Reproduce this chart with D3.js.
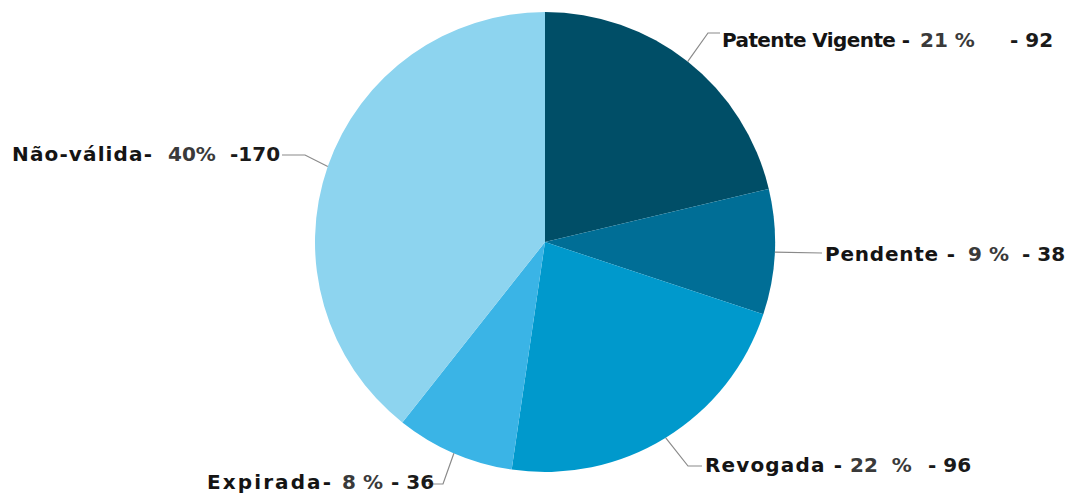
<!DOCTYPE html>
<html>
<head>
<meta charset="utf-8">
<script src="https://cdn.jsdelivr.net/npm/d3@7"></script>
<style>
  html, body { margin: 0; padding: 0; background: #fff; }
  svg text { font-family: "DejaVu Sans", sans-serif; font-weight: bold; font-size: 20px; white-space: pre; }
</style>
</head>
<body>
<svg id="chart" width="1069" height="494"></svg>
<script>
// ---- data ----
const categories = ["Patente Vigente", "Pendente", "Revogada", "Expirada", "Não-válida"];
const counts = [92, 38, 96, 36, 170];
const percentLabels = ["21 %", "9 %", "22  %", "8 %", "40%"];
const nameLabels = ["Patente Vigente -", "Pendente -", "Revogada -", "Expirada-", "Não-válida-"];
const countLabels = ["- 92", "- 38", "- 96", "- 36", "-170"];
const colors = ["#004e67", "#006e96", "#0099cc", "#3ab4e6", "#8dd4ef"];

// ---- layout (positions, not data) ----
const cx = 545, cy = 242, radius = 230;
const labelLayout = [
  { elbow: [708, 33], end: [720, 33], baseline: 47, nameW: 188, xs: [722, 920, 1010] },
  { elbow: null, end: [822, 253], baseline: 261, nameW: 130, xs: [825, 968, 1022] },
  { elbow: [688, 466], end: [702, 466], baseline: 472, nameW: 137, xs: [705, 850, 928] },
  { elbow: [443, 484], end: [428, 484], baseline: 489, nameW: 124, xs: [207, 342, 391] },
  { elbow: [305, 155], end: [282, 155], baseline: 161, nameW: 140, xs: [12, 168, 230] }
];

const svg = d3.select("#chart");
const g = svg.append("g").attr("transform", `translate(${cx},${cy})`);

const pie = d3.pie().sort(null).value(d => d)(counts);
const arc = d3.arc().innerRadius(0).outerRadius(radius);

g.selectAll("path.slice")
  .data(pie)
  .join("path")
  .attr("class", "slice")
  .attr("d", arc)
  .attr("fill", (d, i) => colors[i]);

// leader lines
pie.forEach((d, i) => {
  const mid = (d.startAngle + d.endAngle) / 2;
  const sx = cx + radius * Math.sin(mid);
  const sy = cy - radius * Math.cos(mid);
  const L = labelLayout[i];
  const pts = [[sx, sy]];
  if (L.elbow) pts.push(L.elbow);
  pts.push(L.end);
  svg.append("polyline")
    .attr("points", pts.map(p => p.join(",")).join(" "))
    .attr("fill", "none")
    .attr("stroke", "#8a8a8a")
    .attr("stroke-width", 1.2);
});

// labels
categories.forEach((c, i) => {
  const L = labelLayout[i];
  svg.append("text")
    .attr("x", L.xs[0]).attr("y", L.baseline)
    .attr("textLength", L.nameW).attr("lengthAdjust", "spacing")
    .attr("fill", "#141414")
    .text(nameLabels[i]);
  svg.append("text")
    .attr("x", L.xs[1]).attr("y", L.baseline)
    .attr("fill", "#3a3a3a")
    .text(percentLabels[i]);
  svg.append("text")
    .attr("x", L.xs[2]).attr("y", L.baseline)
    .attr("fill", "#1a1a1a")
    .text(countLabels[i]);
});
</script>
</body>
</html>
